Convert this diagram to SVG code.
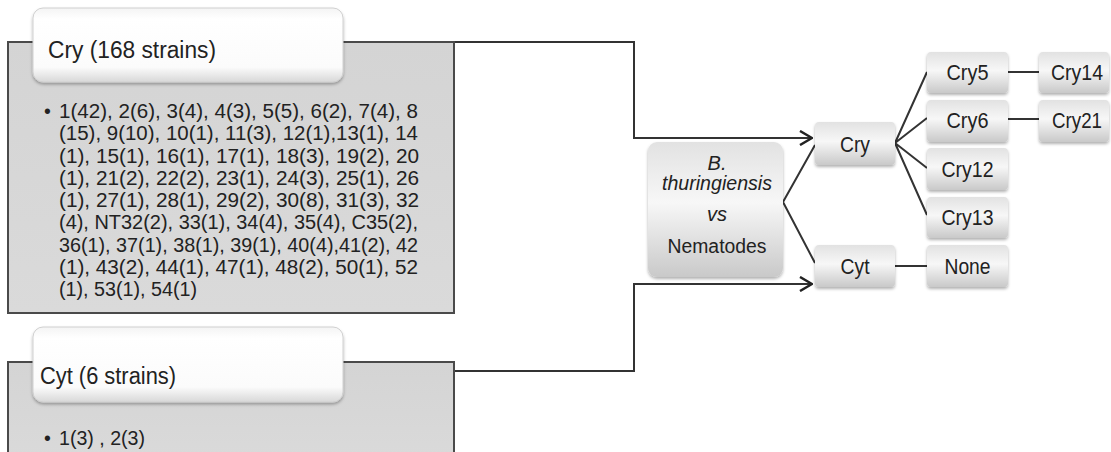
<svg xmlns="http://www.w3.org/2000/svg" width="1111" height="452" viewBox="0 0 1111 452">
<defs>
<linearGradient id="hdr" x1="0" y1="0" x2="0" y2="1">
<stop offset="0" stop-color="#f4f4f4"/><stop offset="0.15" stop-color="#ffffff"/><stop offset="0.8" stop-color="#fbfbfb"/><stop offset="1" stop-color="#d8d8d8"/>
</linearGradient>
<linearGradient id="nd" x1="0" y1="0" x2="0" y2="1">
<stop offset="0" stop-color="#e2e2e2"/><stop offset="0.45" stop-color="#f7f7f7"/><stop offset="1" stop-color="#c9c9c9"/>
</linearGradient>
<linearGradient id="panel" x1="0" y1="0" x2="0" y2="1">
<stop offset="0" stop-color="#d4d4d4"/><stop offset="1" stop-color="#dadada"/>
</linearGradient>
<filter id="sh" x="-10%" y="-20%" width="120%" height="150%">
<feDropShadow dx="0" dy="2" stdDeviation="1.5" flood-color="#000" flood-opacity="0.3"/>
</filter>
<marker id="arr" viewBox="0 0 14 16" refX="13" refY="8" markerWidth="14" markerHeight="16" markerUnits="userSpaceOnUse" orient="auto">
<path d="M1,1 L13,8 L1,15" fill="none" stroke="#222" stroke-width="2.5"/>
</marker>
</defs>
<style>
.t{font-family:"Liberation Sans",Arial,sans-serif;fill:#222}
.hd{font-size:23px}
.bd{font-size:19.5px}
.nl{font-size:22px;text-anchor:middle}
.it{font-style:italic}
.pnl{fill:url(#panel);stroke:#4a4a4a;stroke-width:2}
.hdr{fill:url(#hdr);stroke:#d0d0d0;stroke-width:1}
.nb{fill:url(#nd);stroke:none}
.ln{fill:none;stroke:#333;stroke-width:2}
</style>
<rect width="1111" height="452" fill="#ffffff"/>

<g id="connectors">
<path class="ln" d="M455,42 H634 V138 H812" marker-end="url(#arr)"/>
<path class="ln" d="M455,371 H634 V284 H812" marker-end="url(#arr)"/>
<path class="ln" d="M783,202 L815,145 M783,202 L815,263"/>
<path class="ln" d="M895,143 L927,72 M895,143 L927,118 M895,143 L927,168 M895,143 L927,215"/>
<path class="ln" d="M1008,72 H1039 M1008,119 H1039 M895,266 H927"/>
</g>

<g id="cry-panel">
<rect class="pnl" x="8" y="42" width="446" height="271"/>
<rect class="hdr" x="33" y="8" width="310" height="74" rx="10" filter="url(#sh)"/>
<text class="t hd" x="48" y="58" textLength="168" lengthAdjust="spacingAndGlyphs">Cry (168 strains)</text>
<text class="t bd" x="44" y="118">•</text>
<text class="t bd" x="59" y="118" textLength="359" lengthAdjust="spacingAndGlyphs">1(42), 2(6), 3(4), 4(3), 5(5), 6(2), 7(4), 8</text>
<text class="t bd" x="59" y="140.2" textLength="359" lengthAdjust="spacingAndGlyphs">(15), 9(10), 10(1), 11(3), 12(1),13(1), 14</text>
<text class="t bd" x="59" y="162.5" textLength="360" lengthAdjust="spacingAndGlyphs">(1), 15(1), 16(1), 17(1), 18(3), 19(2), 20</text>
<text class="t bd" x="59" y="184.7" textLength="360" lengthAdjust="spacingAndGlyphs">(1), 21(2), 22(2), 23(1), 24(3), 25(1), 26</text>
<text class="t bd" x="59" y="207" textLength="360" lengthAdjust="spacingAndGlyphs">(1), 27(1), 28(1), 29(2), 30(8), 31(3), 32</text>
<text class="t bd" x="59" y="229.2" textLength="359" lengthAdjust="spacingAndGlyphs">(4), NT32(2), 33(1), 34(4), 35(4), C35(2),</text>
<text class="t bd" x="59" y="251.5" textLength="359" lengthAdjust="spacingAndGlyphs">36(1), 37(1), 38(1), 39(1), 40(4),41(2), 42</text>
<text class="t bd" x="59" y="273.7" textLength="359" lengthAdjust="spacingAndGlyphs">(1), 43(2), 44(1), 47(1), 48(2), 50(1), 52</text>
<text class="t bd" x="59" y="296" textLength="138" lengthAdjust="spacingAndGlyphs">(1), 53(1), 54(1)</text>
</g>

<g id="cyt-panel">
<rect class="pnl" x="8" y="362" width="446" height="100"/>
<rect class="hdr" x="33" y="327" width="310" height="75" rx="10" filter="url(#sh)"/>
<text class="t hd" x="40" y="384" textLength="136" lengthAdjust="spacingAndGlyphs">Cyt (6 strains)</text>
<text class="t bd" x="44" y="445">•</text>
<text class="t bd" x="59" y="445" textLength="86" lengthAdjust="spacingAndGlyphs">1(3) , 2(3)</text>
</g>

<g id="node-bt">
<rect class="nb" x="648" y="142" width="135" height="135" rx="9" filter="url(#sh)"/>
<text class="t it" x="717" y="170" font-size="20" text-anchor="middle">B.</text>
<text class="t it" x="717" y="190" font-size="20" text-anchor="middle" textLength="110" lengthAdjust="spacingAndGlyphs">thuringiensis</text>
<text class="t it" x="717" y="221" font-size="20" text-anchor="middle">vs</text>
<text class="t" x="717" y="253" font-size="20" text-anchor="middle" textLength="99" lengthAdjust="spacingAndGlyphs">Nematodes</text>
</g>

<g id="node-cry">
<rect class="nb" x="815" y="122" width="80" height="43" rx="4" filter="url(#sh)"/>
<text class="t nl" x="855" y="152" textLength="30" lengthAdjust="spacingAndGlyphs">Cry</text>
</g>
<g id="node-cyt">
<rect class="nb" x="815" y="245" width="80" height="42" rx="4" filter="url(#sh)"/>
<text class="t nl" x="855" y="274" textLength="29" lengthAdjust="spacingAndGlyphs">Cyt</text>
</g>
<g id="node-cry5">
<rect class="nb" x="927" y="52" width="81" height="41" rx="4" filter="url(#sh)"/>
<text class="t nl" x="967.5" y="80" textLength="42" lengthAdjust="spacingAndGlyphs">Cry5</text>
</g>
<g id="node-cry6">
<rect class="nb" x="927" y="100" width="81" height="42" rx="4" filter="url(#sh)"/>
<text class="t nl" x="967.5" y="128" textLength="42" lengthAdjust="spacingAndGlyphs">Cry6</text>
</g>
<g id="node-cry12">
<rect class="nb" x="927" y="148" width="81" height="42" rx="4" filter="url(#sh)"/>
<text class="t nl" x="967.5" y="177" textLength="52" lengthAdjust="spacingAndGlyphs">Cry12</text>
</g>
<g id="node-cry13">
<rect class="nb" x="927" y="197" width="81" height="41" rx="4" filter="url(#sh)"/>
<text class="t nl" x="967.5" y="225" textLength="52" lengthAdjust="spacingAndGlyphs">Cry13</text>
</g>
<g id="node-none">
<rect class="nb" x="927" y="245" width="81" height="42" rx="4" filter="url(#sh)"/>
<text class="t nl" x="967.5" y="274" textLength="46" lengthAdjust="spacingAndGlyphs">None</text>
</g>
<g id="node-cry14">
<rect class="nb" x="1039" y="52" width="70" height="41" rx="4" filter="url(#sh)"/>
<text class="t nl" x="1077" y="80" textLength="52" lengthAdjust="spacingAndGlyphs">Cry14</text>
</g>
<g id="node-cry21">
<rect class="nb" x="1039" y="100" width="70" height="42" rx="4" filter="url(#sh)"/>
<text class="t nl" x="1077" y="128" textLength="50" lengthAdjust="spacingAndGlyphs">Cry21</text>
</g>
</svg>
